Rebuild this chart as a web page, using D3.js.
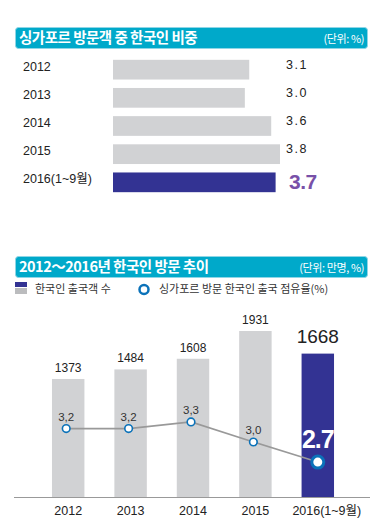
<!DOCTYPE html>
<html><head><meta charset="utf-8">
<script src="https://cdn.jsdelivr.net/npm/d3@7"></script>
<style>
html,body{margin:0;padding:0;background:#fff;}
svg{display:block;}
</style></head>
<body>
<svg id="c" width="391" height="529"></svg>
<script>
// ---- Data ----
const shareYears = ["2012","2013","2014","2015","2016(1~9월)"];
const shareValues = [3.1, 3.0, 3.6, 3.8, 3.7];
const shareLabels = ["3.1","3.0","3.6","3.8","3.7"];

const trendYears = ["2012","2013","2014","2015","2016(1~9월)"];
const outboundValues = [1373, 1484, 1608, 1931, 1668];
const rateValues = [3.2, 3.2, 3.3, 3.0, 2.7];
const rateLabels = ["3,2","3,2","3,3","3,0","2.7"];

const title1 = "싱가포르 방문객 중 한국인 비중";
const unit1 = "(단위: %)";
const title2 = "2012～2016년 한국인 방문 추이";
const unit2 = "(단위: 만명, %)";
const legendBar = "한국인 출국객 수";
const legendLine = "싱가포르 방문 한국인 출국 점유율(%)";

// ---- Styles ----
const TEAL = "#00a9ca", GRAY = "#d1d2d4", NAVY = "#333393", BLUE = "#0b72b9", PURPLE = "#7850a8";
const NUM = "'Liberation Sans', 'Noto Sans CJK KR', sans-serif";
const KR = "'Noto Sans CJK KR', sans-serif";

const svg = d3.select("#c");

function header(y, title, unit) {
  svg.append("rect").attr("x", 15.5).attr("y", y + 0.5).attr("width", 352).attr("height", 21)
    .attr("rx", 3).attr("fill", TEAL).attr("stroke", "#8fd6e6").attr("stroke-width", 1);
  svg.append("text").attr("x", 19).attr("y", y + 16).attr("fill", "#fff")
    .attr("font-family", KR).attr("font-weight", 700).attr("font-size", 14.5).attr("letter-spacing", -0.5)
    .text(title);
  svg.append("text").attr("x", 364).attr("y", y + 15.5).attr("fill", "#fff").attr("text-anchor", "end")
    .attr("font-family", KR).attr("font-size", 11).attr("letter-spacing", -0.4)
    .text(unit);
}

// ---- Top chart ----
header(27, title1, unit1);

const y1 = d3.scaleBand().domain(shareYears).range([57, 195]).paddingInner(0.3).paddingOuter(0.1);
const x1 = d3.scaleLinear().domain([0, 3.8]).range([113, 280]);

const g1 = svg.append("g");
g1.selectAll("rect.b").data(shareYears).join("rect").attr("class", "b")
  .attr("x", x1(0)).attr("y", d => y1(d))
  .attr("width", (d, i) => x1(shareValues[i]) - x1(0)).attr("height", y1.bandwidth())
  .attr("fill", (d, i) => i === shareYears.length - 1 ? NAVY : GRAY);

g1.selectAll("text.y").data(shareYears).join("text").attr("class", "y")
  .attr("x", 23).attr("y", d => y1(d) + y1.bandwidth() / 2 + 1)
  .attr("font-family", NUM).attr("font-size", 12.5).attr("fill", "#222")
  .text(d => d);

g1.selectAll("text.v").data(shareYears).join("text").attr("class", "v")
  .attr("x", (d, i) => i === shareYears.length - 1 ? 289 : 286)
  .attr("y", (d, i) => i === shareYears.length - 1 ? y1(d) + y1.bandwidth() - 3 : y1(d) + 9)
  .attr("font-family", NUM)
  .attr("font-size", (d, i) => i === shareYears.length - 1 ? 21 : 12.5)
  .attr("font-weight", (d, i) => i === shareYears.length - 1 ? 700 : 400)
  .attr("letter-spacing", (d, i) => i === shareYears.length - 1 ? -0.5 : 1.5)
  .attr("fill", (d, i) => i === shareYears.length - 1 ? PURPLE : "#222")
  .text((d, i) => shareLabels[i]);

// ---- Bottom chart ----
header(256, title2, unit2);

// legend
svg.append("rect").attr("x", 15).attr("y", 282).attr("width", 12).attr("height", 5).attr("fill", NAVY);
svg.append("rect").attr("x", 15).attr("y", 288).attr("width", 12).attr("height", 6).attr("fill", "#bbbcbe");
svg.append("text").attr("x", 35).attr("y", 293).attr("font-family", KR).attr("font-size", 11)
  .attr("fill", "#333").text(legendBar);
svg.append("circle").attr("cx", 144).attr("cy", 289.5).attr("r", 4.5).attr("fill", "#fff")
  .attr("stroke", BLUE).attr("stroke-width", 2.5);
svg.append("text").attr("x", 159).attr("y", 293).attr("font-family", KR).attr("font-size", 11)
  .attr("fill", "#333").text(legendLine);

const x2 = d3.scaleBand().domain(trendYears).range([37, 349]).paddingInner(0.48).paddingOuter(0.24);
const y2 = d3.scaleLinear().domain([0, 1931]).range([497, 331]);
const yr = d3.scaleLinear().domain([2, 4]).range([509, 375]);
const last = trendYears.length - 1;

const g2 = svg.append("g");
g2.selectAll("rect.b").data(trendYears).join("rect").attr("class", "b")
  .attr("x", d => x2(d)).attr("y", (d, i) => y2(outboundValues[i]))
  .attr("width", x2.bandwidth()).attr("height", (d, i) => y2(0) - y2(outboundValues[i]))
  .attr("fill", (d, i) => i === last ? NAVY : GRAY);

g2.selectAll("text.v").data(trendYears).join("text").attr("class", "v")
  .attr("x", d => x2(d) + x2.bandwidth() / 2)
  .attr("y", (d, i) => y2(outboundValues[i]) - (i === last ? 11 : 7))
  .attr("text-anchor", "middle").attr("font-family", NUM)
  .attr("font-size", (d, i) => i === last ? 19 : 12)
  .attr("font-weight", (d, i) => i === last ? 500 : 400)
  .attr("fill", "#222")
  .text((d, i) => outboundValues[i]);

// axis
const axis = d3.axisBottom(x2).tickSize(0).tickPadding(9);
const ax = g2.append("g").attr("transform", `translate(0,${y2(0)})`).call(axis);
ax.select(".domain").attr("d", `M14,0.5H370`).attr("stroke", "#999").attr("stroke-width", 1.2);
ax.selectAll(".tick text").attr("font-family", NUM).attr("font-size", 12.5).attr("fill", "#222")
  .attr("dx", (d, i) => i === last ? 9 : 0);

// line
const cx = (d, i) => x2(d) + x2.bandwidth() / 2 - (i === last ? 0 : 2);
const line = d3.line().x(p => p[0]).y(p => p[1]);
const pts = trendYears.map((d, i) => [cx(d, i), yr(rateValues[i])]);
g2.append("path").attr("d", line(pts)).attr("fill", "none").attr("stroke", "#999").attr("stroke-width", 1.6);

g2.selectAll("circle.p").data(trendYears).join("circle").attr("class", "p")
  .attr("cx", (d, i) => cx(d, i)).attr("cy", (d, i) => yr(rateValues[i]))
  .attr("r", (d, i) => i === last ? 6 : 3.8)
  .attr("fill", "#fff").attr("stroke", BLUE).attr("stroke-width", (d, i) => i === last ? 3 : 1.6);

g2.selectAll("text.r").data(trendYears).join("text").attr("class", "r")
  .attr("x", (d, i) => cx(d, i)).attr("y", (d, i) => yr(rateValues[i]) - (i === last ? 14 : 8))
  .attr("text-anchor", "middle").attr("font-family", NUM)
  .attr("font-size", (d, i) => i === last ? 25 : 11.5)
  .attr("font-weight", (d, i) => i === last ? 700 : 400)
  .attr("letter-spacing", (d, i) => i === last ? -1 : 0)
  .attr("fill", (d, i) => i === last ? "#fff" : "#333")
  .text((d, i) => rateLabels[i]);
</script>
</body></html>
